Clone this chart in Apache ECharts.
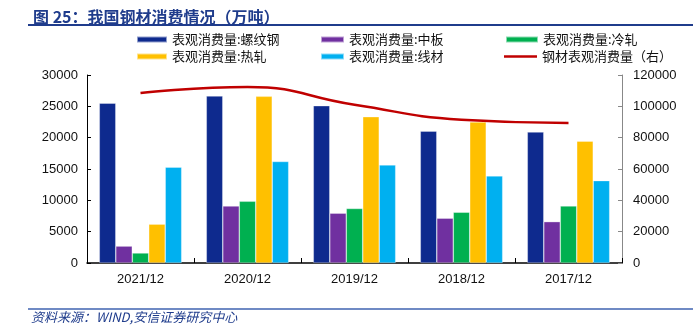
<!DOCTYPE html>
<html>
<head>
<meta charset="utf-8">
<script src="https://cdn.jsdelivr.net/npm/echarts@6/dist/echarts.min.js"></script>
<style>
  html, body { margin: 0; padding: 0; background: #fff; }
  #chart { width: 693px; height: 333px; }
</style>
</head>
<body>
<div id="chart"></div>
<script>
// 我国钢材消费情况（万吨）
const categories = ['2021/12', '2020/12', '2019/12', '2018/12', '2017/12'];
const rebar      = [25500, 26650, 25100, 21050, 20900];   // 螺纹钢
const plate      = [2700, 9100, 7950, 7150, 6600];        // 中板
const coldRolled = [1600, 9850, 8700, 8100, 9100];        // 冷轧
const hotRolled  = [6200, 26600, 23350, 22500, 19450];    // 热轧
const wireRod    = [15300, 16200, 15650, 13900, 13150];   // 线材
const steelTotal = [108500, 112300, 101000, 91500, 89400]; // 钢材表观消费量（右轴）
const leftTicks  = [0, 30000, 5000];
const rightTicks = [0, 120000, 20000];

const FONT = '"Liberation Sans", Arial, "Noto Sans CJK SC", sans-serif';
const CJK = '"Noto Sans CJK SC", "Liberation Sans", sans-serif';

const names = {
  rebar: '表观消费量:螺纹钢',
  plate: '表观消费量:中板',
  cold: '表观消费量:冷轧',
  hot: '表观消费量:热轧',
  wire: '表观消费量:线材',
  total: '钢材表观消费量（右）'
};

const colors = {
  rebar: '#0e2a8e',
  plate: '#7030a0',
  cold: '#00b050',
  hot: '#ffc000',
  wire: '#00b0f0',
  total: '#c00000'
};

function bar(key, data) {
  return {
    name: names[key],
    type: 'bar',
    data: data,
    barGap: '0%',
    barCategoryGap: '23%',
    itemStyle: { color: colors[key], borderColor: 'rgba(255,255,255,0.55)', borderWidth: 0.6 }
  };
}

const legendText = { fontFamily: CJK, fontSize: 13, color: '#111', lineHeight: 13 };
function legendCol(left, top, width, height, items) {
  return {
    orient: 'vertical',
    left: left,
    top: top,
    padding: 0,
    itemWidth: width,
    itemHeight: height,
    itemGap: 4,
    textStyle: legendText,
    data: items
  };
}

const plainNumber = v => String(v);

const chart = echarts.init(document.getElementById('chart'), null, { renderer: 'canvas' });
chart.setOption({
  animation: false,
  backgroundColor: '#fff',
  textStyle: { fontFamily: FONT },
  title: {
    text: '图 25：我国钢材消费情况（万吨）',
    left: 28,
    top: 4,
    textStyle: { fontFamily: CJK, fontSize: 16, fontWeight: 'bold', color: '#1f3c8c' }
  },
  graphic: [
    { type: 'line', shape: { x1: 28, y1: 25, x2: 693, y2: 25 }, style: { stroke: '#1f3c8c', lineWidth: 2 } },
    { type: 'line', shape: { x1: 28, y1: 309, x2: 693, y2: 309 }, style: { stroke: '#3f63b0', lineWidth: 1.5 } },
    {
      type: 'text', left: 31, top: 311,
      style: { text: '资料来源：WIND,安信证券研究中心', font: 'italic 13px ' + CJK, fill: '#1f3c8c' }
    }
  ],
  legend: [
    legendCol(136, 33, 30, 6, [{ name: names.rebar, icon: 'rect' }, { name: names.hot, icon: 'rect' }]),
    legendCol(320, 33, 23, 6, [{ name: names.plate, icon: 'rect' }, { name: names.wire, icon: 'rect' }]),
    legendCol(505, 33, 32, 6, [{ name: names.cold, icon: 'rect' }]),
    legendCol(504, 50, 33, 2.5, [{ name: names.total, icon: 'rect' }])
  ],
  grid: { left: 87, right: 71, top: 75, bottom: 70, containLabel: false },
  xAxis: {
    type: 'category',
    data: categories,
    axisLine: { lineStyle: { color: '#000', width: 1.5 } },
    axisTick: { show: true, inside: true, length: 5, alignWithLabel: false, lineStyle: { color: '#000' } },
    axisLabel: { fontFamily: FONT, fontSize: 13, color: '#111', margin: 10 }
  },
  yAxis: [
    {
      type: 'value',
      min: leftTicks[0], max: leftTicks[1], interval: leftTicks[2],
      axisLine: { show: true, lineStyle: { color: '#000', width: 1 } },
      axisTick: { show: true, inside: true, length: 4, lineStyle: { color: '#000' } },
      splitLine: { show: false },
      axisLabel: { fontFamily: FONT, fontSize: 13, color: '#111', margin: 9, formatter: plainNumber }
    },
    {
      type: 'value',
      min: rightTicks[0], max: rightTicks[1], interval: rightTicks[2],
      position: 'right',
      axisLine: { show: true, lineStyle: { color: '#888', width: 1 } },
      axisTick: { show: true, inside: true, length: 4, lineStyle: { color: '#888' } },
      splitLine: { show: false },
      axisLabel: { fontFamily: FONT, fontSize: 13, color: '#111', margin: 11, formatter: plainNumber }
    }
  ],
  series: [
    bar('rebar', rebar),
    bar('plate', plate),
    bar('cold', coldRolled),
    bar('hot', hotRolled),
    bar('wire', wireRod),
    {
      name: names.total,
      type: 'line',
      yAxisIndex: 1,
      data: steelTotal,
      smooth: 0.5,
      symbol: 'none',
      lineStyle: { color: colors.total, width: 2.5 },
      itemStyle: { color: colors.total },
      z: 5
    }
  ]
});
</script>
</body>
</html>
